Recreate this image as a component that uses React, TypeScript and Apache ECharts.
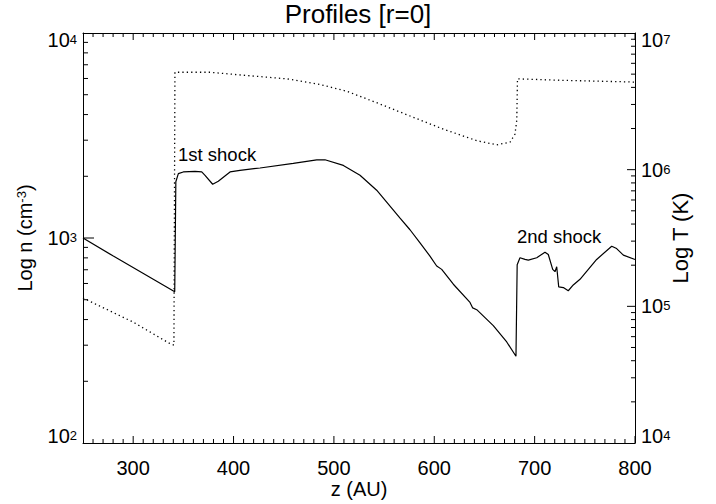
import React, { useEffect, useRef } from 'react';
import * as echarts from 'echarts';

const FONT = '"Liberation Sans", Arial, Helvetica, sans-serif';

// Density profile (solid, left axis)
const zN = [250, 280.2, 341.4, 342.5, 345.0, 349.9, 361.6, 368.3, 371.6, 379.2, 384.8, 396.5, 406.4, 426.4, 459.5, 482.9, 491.1, 509.4, 526.0, 542.6, 565.9, 575.8, 585.8, 595.7, 602.4, 607.4, 619.0, 635.6, 638.3, 642.3, 658.8, 672.2, 681.4, 682.6, 685.4, 690.4, 693.7, 702.1, 710.3, 713.6, 718.0, 720.3, 722.0, 724.0, 728.6, 733.5, 738.5, 745.2, 761.8, 776.8, 781.7, 788.4, 800];
const density = [1000, 816, 547, 1880, 2061, 2100, 2114, 2100, 2022, 1829, 1891, 2100, 2138, 2195, 2311, 2407, 2407, 2260, 2022, 1711, 1249, 1097, 946, 816, 730, 703, 595, 485, 456, 447, 374, 311, 265, 740, 801, 786, 780, 801, 853, 831, 703, 685, 724, 577, 573, 553, 590, 629, 786, 912, 888, 825, 786];

// Temperature profile (dotted, right axis)
const zT = [250, 300.1, 336.7, 340.6, 341.6, 376.5, 409.7, 453.0, 486.1, 512.7, 542.6, 575.8, 609.0, 642.3, 662.2, 675.5, 680.4, 682.2, 682.9, 725.3, 791.7, 800];
const temperature = [1.15e5, 7.66e4, 5.33e4, 5.2e4, 5.16e6, 5.16e6, 4.91e6, 4.62e6, 4.2e6, 3.75e6, 3.09e6, 2.47e6, 1.98e6, 1.63e6, 1.52e6, 1.59e6, 1.82e6, 2.3e6, 4.62e6, 4.51e6, 4.39e6, 4.37e6];

const xMajorTicks = [300, 400, 500, 600, 700, 800];
const xMinorTicks = [260, 270, 280, 290, 310, 320, 330, 340, 350, 360, 370, 380, 390, 410, 420, 430, 440, 450, 460, 470, 480, 490, 510, 520, 530, 540, 550, 560, 570, 580, 590, 610, 620, 630, 640, 650, 660, 670, 680, 690, 710, 720, 730, 740, 750, 760, 770, 780, 790];
const nMajorTicks = [1000];
const nMinorTicks = [200, 300, 400, 500, 600, 700, 800, 900, 2000, 3000, 4000, 5000, 6000, 7000, 8000, 9000];
const tMajorTicks = [1e5, 1e6];
const tMinorTicks = [2e4, 3e4, 4e4, 5e4, 6e4, 7e4, 8e4, 9e4, 2e5, 3e5, 4e5, 5e5, 6e5, 7e5, 8e5, 9e5, 2e6, 3e6, 4e6, 5e6, 6e6, 7e6, 8e6, 9e6];

const expFormatter = (v: number) => `{a|10}{s|${Math.round(Math.log10(v))}}`;

function labelRich() {
  return {
    a: { fontSize: 20, lineHeight: 14, fontFamily: FONT, color: '#000' },
    s: { fontSize: 13, lineHeight: 6, verticalAlign: 'top', fontFamily: FONT, color: '#000' },
  };
}

// One tick mark per data item, placed through the axes' own scales.
// dx, dy give the tick's direction and length from the axis point.
function tickSeries(points: number[][], yAxisIndex: number, dx: number, dy: number) {
  return {
    type: 'custom',
    xAxisIndex: 0,
    yAxisIndex,
    data: points,
    renderItem: (params: any, api: any) => {
      const p = api.coord([api.value(0), api.value(1)]);
      return { type: 'line', shape: { x1: p[0], y1: p[1], x2: p[0] + dx, y2: p[1] + dy }, style: { stroke: '#000', lineWidth: 1 } };
    },
  };
}

export default function App() {
  const ref = useRef<HTMLDivElement>(null);
  useEffect(() => {
    if (!ref.current) return;
    const chart = echarts.init(ref.current, undefined, { renderer: 'svg' });
    const option: any = {
      animation: false,
      title: {
        text: 'Profiles [r=0]',
        left: 'center',
        top: 1,
        padding: 0,
        textStyle: { fontSize: 26, fontWeight: 'normal', color: '#000', fontFamily: FONT },
      },
      grid: { left: 83, right: 81, top: 33, bottom: 57 },
      xAxis: [
        {
          type: 'value',
          min: 250,
          max: 800,
          position: 'bottom',
          splitLine: { show: false },
          axisLine: { show: true, lineStyle: { color: '#000', width: 1 } },
          axisTick: { show: false },
          axisLabel: { show: true, margin: 15, fontSize: 20, color: '#000', fontFamily: FONT, customValues: xMajorTicks },
          name: 'z (AU)',
          nameLocation: 'middle',
          nameGap: 36,
          nameMoveOverlap: false,
          nameTextStyle: { fontSize: 20, color: '#000', fontFamily: FONT },
        },
        {
          type: 'value',
          min: 250,
          max: 800,
          position: 'top',
          splitLine: { show: false },
          axisLine: { show: true, lineStyle: { color: '#000', width: 1 } },
          axisTick: { show: false },
          axisLabel: { show: false },
        },
      ],
      yAxis: [
        {
          type: 'log',
          logBase: 10,
          min: 100,
          max: 10000,
          position: 'left',
          axisLine: { show: true, lineStyle: { color: '#000', width: 1 } },
          splitLine: { show: false },
          axisTick: { show: false },
          axisLabel: {
            margin: 6,
            formatter: expFormatter,
            rich: labelRich(),
            verticalAlignMinLabel: 'bottom',
            verticalAlignMaxLabel: 'top',
          },
          name: '{t|Log n (cm}{u|-3}{t|)}',
          nameLocation: 'middle',
          nameGap: 48,
          nameMoveOverlap: false,
          nameTextStyle: {
            fontSize: 20,
            fontFamily: FONT,
            color: '#000',
            rich: {
              t: { fontSize: 20, lineHeight: 20, fontFamily: FONT, color: '#000' },
              u: { fontSize: 13, lineHeight: 9, verticalAlign: 'top', fontFamily: FONT, color: '#000' },
            },
          },
        },
        {
          type: 'log',
          logBase: 10,
          min: 1e4,
          max: 1e7,
          position: 'right',
          axisLine: { show: true, lineStyle: { color: '#000', width: 1 } },
          splitLine: { show: false },
          axisTick: { show: false },
          axisLabel: {
            margin: 6,
            formatter: expFormatter,
            rich: labelRich(),
            verticalAlignMinLabel: 'bottom',
            verticalAlignMaxLabel: 'top',
          },
          name: 'Log T (K)',
          nameLocation: 'middle',
          nameGap: 34,
          nameMoveOverlap: false,
          nameTextStyle: { fontSize: 22, fontFamily: FONT, color: '#000' },
        },
      ],
      series: [
        {
          type: 'line',
          name: 'n',
          xAxisIndex: 0,
          yAxisIndex: 0,
          data: zN.map((z, i) => [z, density[i]]),
          showSymbol: false,
          symbol: 'none',
          lineStyle: { color: '#000', width: 1.2 },
        },
        {
          type: 'line',
          name: 'T',
          xAxisIndex: 0,
          yAxisIndex: 1,
          data: zT.map((z, i) => [z, temperature[i]]),
          showSymbol: false,
          symbol: 'none',
          lineStyle: { color: '#000', width: 1.3, type: [1.3, 3.1] },
        },
        // bottom x ticks
        tickSeries(xMajorTicks.map((v) => [v, 100]), 0, 0, -7),
        tickSeries(xMinorTicks.map((v) => [v, 100]), 0, 0, -4),
        // top x ticks
        tickSeries(xMajorTicks.map((v) => [v, 10000]), 0, 0, 7),
        tickSeries(xMinorTicks.map((v) => [v, 10000]), 0, 0, 4),
        // left (density) ticks
        tickSeries(nMajorTicks.map((v) => [250, v]), 0, 11, 0),
        tickSeries(nMinorTicks.map((v) => [250, v]), 0, 5, 0),
        // right (temperature) ticks
        tickSeries(tMajorTicks.map((v) => [800, v]), 1, -8, 0),
        tickSeries(tMinorTicks.map((v) => [800, v]), 1, -4, 0),
      ],
      graphic: [
        {
          type: 'text',
          x: 178,
          y: 154,
          style: { text: '1st shock', fontSize: 18.5, fontFamily: FONT, fill: '#000', align: 'left', verticalAlign: 'middle' },
        },
        {
          type: 'text',
          x: 517,
          y: 236.5,
          style: { text: '2nd shock', fontSize: 18.5, fontFamily: FONT, fill: '#000', align: 'left', verticalAlign: 'middle' },
        },
      ],
    };
    chart.setOption(option);
    return () => chart.dispose();
  }, []);
  return <div ref={ref} style={{ position: 'absolute', left: 0, top: 0, width: 716, height: 504 }} />;
}
